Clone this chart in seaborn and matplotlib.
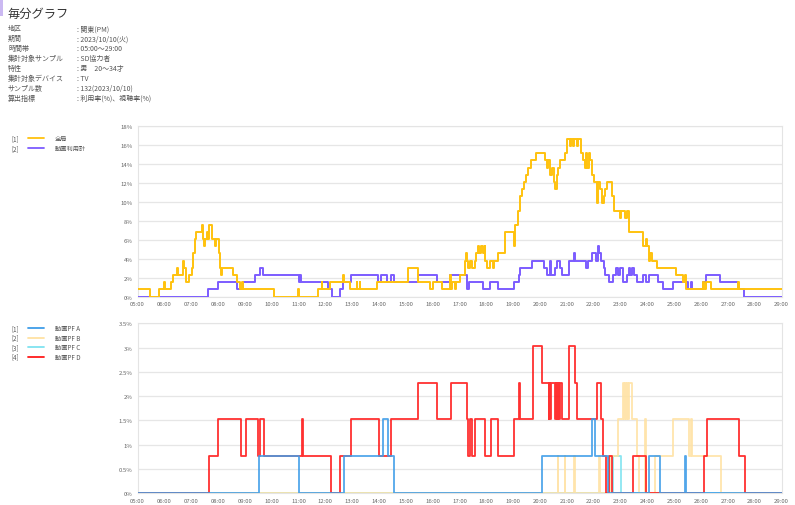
import matplotlib
matplotlib.use("Agg")
import numpy as np
import pandas as pd
import matplotlib.pyplot as plt
import seaborn as sns
from matplotlib.lines import Line2D
from matplotlib.patches import Rectangle

# header text
title = "毎分グラフ"
info_labels = ["地区", "期間", "時間帯", "集計対象サンプル", "特性",
               "集計対象デバイス", "サンプル数", "算出指標"]
info_values = ["関東(PM)", "2023/10/10(火)", "05:00～29:00", "SD協力者", "男　20～34才",
               "TV", "132(2023/10/10)", "利用率(%)、視聴率(%)"]

# x axis: broadcast day 05:00 - 29:00
hours = list(range(5, 30))
hour_labels = [f"{h:02d}:00" for h in hours]
top_yticks = [0, 2, 4, 6, 8, 10, 12, 14, 16, 18]
bottom_yticks = [0, 0.5, 1, 1.5, 2, 2.5, 3, 3.5]

top_names = ["全局", "動画利用計"]
top_colors = ["#ffc20e", "#7c5cff"]
bottom_names = ["動画PF A", "動画PF B", "動画PF C", "動画PF D"]
bottom_colors = ["#3f9de8", "#ffe2a3", "#7fe3f0", "#ff1a1a"]

# step data: (time the value starts, percent)
zenkyoku = [("05:00", 0.76), ("05:29", 0), ("05:49", 0.76), ("05:59", 1.52), ("06:01", 0.76),
            ("06:16", 1.52), ("06:19", 2.27), ("06:29", 3.03), ("06:31", 2.27), ("06:42", 3.79),
            ("06:44", 3.03), ("06:48", 1.52), ("06:55", 2.27), ("07:01", 3.03), ("07:05", 4.55),
            ("07:08", 6.06), ("07:11", 6.82), ("07:25", 7.58), ("07:27", 6.06), ("07:29", 5.30),
            ("07:31", 6.06), ("07:35", 6.82), ("07:37", 6.06), ("07:40", 7.58), ("07:46", 6.06),
            ("07:53", 5.30), ("07:55", 6.06), ("08:03", 4.55), ("08:05", 3.03), ("08:06", 2.27),
            ("08:08", 3.03), ("08:33", 2.27), ("08:42", 1.52), ("08:49", 0.76), ("08:53", 1.52),
            ("08:55", 0.76), ("10:05", 0), ("10:59", 0.76), ("11:00", 0), ("11:44", 0.76),
            ("11:52", 1.52), ("11:53", 0.76), ("12:10", 1.52), ("12:40", 2.27), ("12:41", 1.52),
            ("12:55", 0.76), ("13:10", 1.52), ("13:11", 0.76), ("13:17", 1.52), ("13:18", 0.76),
            ("13:55", 1.52), ("15:05", 3.03), ("15:28", 1.52), ("15:54", 0.76), ("16:00", 1.52),
            ("16:20", 0.76), ("16:38", 2.27), ("16:40", 0.76), ("16:43", 1.52), ("16:50", 0.76),
            ("16:53", 1.52), ("17:01", 2.27), ("17:12", 3.79), ("17:14", 4.55), ("17:16", 3.79),
            ("17:20", 3.03), ("17:24", 3.79), ("17:27", 3.03), ("17:34", 3.79), ("17:36", 4.55),
            ("17:42", 5.30), ("17:44", 4.55), ("17:48", 5.30), ("17:52", 4.55), ("17:56", 5.30),
            ("17:58", 3.79), ("18:02", 3.03), ("18:08", 3.79), ("18:14", 3.03), ("18:18", 3.79),
            ("18:26", 4.55), ("18:42", 6.82), ("19:02", 5.30), ("19:05", 7.58), ("19:10", 9.09),
            ("19:15", 10.61), ("19:20", 11.36), ("19:24", 12.12), ("19:29", 12.88), ("19:33", 13.64),
            ("19:39", 14.39), ("19:50", 15.15), ("20:12", 14.39), ("20:16", 13.64), ("20:19", 14.39),
            ("20:22", 12.88), ("20:27", 13.64), ("20:31", 12.12), ("20:34", 11.36), ("20:37", 12.88),
            ("20:40", 13.64), ("20:45", 14.39), ("20:57", 15.15), ("21:01", 16.67), ("21:07", 15.91),
            ("21:09", 16.67), ("21:13", 15.91), ("21:15", 16.67), ("21:22", 15.91), ("21:24", 16.67),
            ("21:32", 15.15), ("21:37", 14.39), ("21:40", 13.64), ("21:42", 15.15), ("21:46", 13.64),
            ("21:49", 15.15), ("21:52", 14.39), ("21:57", 12.88), ("22:01", 12.12), ("22:07", 9.85),
            ("22:10", 12.12), ("22:14", 11.36), ("22:18", 9.85), ("22:22", 10.61), ("22:25", 11.36),
            ("22:29", 12.12), ("22:41", 10.61), ("22:45", 9.09), ("22:59", 8.33), ("23:02", 9.09),
            ("23:10", 8.33), ("23:14", 9.09), ("23:18", 6.82), ("23:50", 5.30), ("23:57", 6.06),
            ("24:00", 5.30), ("24:04", 3.79), ("24:07", 4.55), ("24:10", 3.79), ("24:22", 3.03),
            ("25:05", 2.27), ("25:19", 1.52), ("25:24", 2.27), ("25:26", 0.76), ("26:05", 1.52),
            ("26:07", 0.76), ("26:12", 1.52), ("26:23", 0.76), ("27:23", 1.52), ("27:25", 0.76)]

douga_total = [("05:00", 0), ("07:37", 0.76), ("07:59", 1.52), ("08:42", 0.76), ("08:56", 1.52),
               ("09:23", 2.27), ("09:34", 3.03), ("09:41", 2.27), ("11:00", 1.52), ("11:04", 2.27),
               ("11:06", 1.52), ("12:05", 0.76), ("12:14", 0), ("12:33", 0.76), ("12:40", 1.52),
               ("12:57", 2.27), ("13:58", 1.52), ("14:04", 2.27), ("14:19", 1.52), ("14:27", 2.27),
               ("14:34", 1.52), ("15:28", 2.27), ("16:09", 1.52), ("16:39", 2.27), ("17:16", 0.76),
               ("17:21", 1.52), ("17:53", 0.76), ("18:08", 1.52), ("18:27", 0.76), ("19:01", 1.52),
               ("19:12", 2.27), ("19:15", 3.03), ("19:42", 3.79), ("20:08", 3.03), ("20:15", 2.27),
               ("20:22", 3.79), ("20:25", 2.27), ("20:33", 3.03), ("20:37", 3.79), ("20:45", 3.03),
               ("20:49", 2.27), ("21:04", 3.79), ("21:17", 4.55), ("21:19", 3.79), ("21:43", 3.03),
               ("21:48", 3.79), ("21:56", 4.55), ("22:05", 3.79), ("22:10", 5.30), ("22:12", 4.55),
               ("22:16", 3.79), ("22:22", 3.03), ("22:26", 2.27), ("22:35", 1.52), ("22:44", 2.27),
               ("22:51", 3.03), ("22:54", 2.27), ("22:59", 3.03), ("23:05", 1.52), ("23:14", 2.27),
               ("23:18", 3.03), ("23:21", 2.27), ("23:26", 3.03), ("23:30", 2.27), ("23:36", 1.52),
               ("23:51", 2.27), ("23:58", 1.52), ("24:04", 2.27), ("24:23", 1.52), ("24:35", 0.76),
               ("24:57", 1.52), ("25:31", 0.76), ("25:37", 1.52), ("25:39", 0.76), ("26:05", 1.52),
               ("26:12", 2.27), ("26:42", 1.52), ("27:23", 0.76), ("27:36", 0)]

pf_a = [("05:00", 0), ("09:32", 0.76), ("11:01", 0), ("12:42", 0.76), ("14:09", 1.52),
        ("14:21", 0.76), ("14:34", 0), ("20:05", 0.76), ("21:56", 1.52), ("22:03", 0.76),
        ("22:33", 0), ("24:04", 0.76), ("24:28", 0), ("25:24", 0.76), ("25:26", 0)]

pf_b = [("05:00", 0), ("20:40", 0.76), ("20:41", 0), ("20:55", 0.76), ("20:57", 0),
        ("21:17", 0.76), ("21:19", 0), ("22:12", 0.76), ("22:15", 0), ("22:36", 0.76),
        ("22:54", 1.52), ("23:05", 2.27), ("23:07", 1.52), ("23:09", 2.27), ("23:12", 1.52),
        ("23:14", 2.27), ("23:17", 1.52), ("23:19", 2.27), ("23:25", 1.52), ("23:36", 0.76),
        ("23:42", 0), ("23:54", 1.52), ("23:57", 0), ("24:17", 0.76), ("24:58", 1.52),
        ("25:33", 0.76), ("25:37", 1.52), ("25:40", 0.76), ("26:45", 0)]

pf_c = [("05:00", 0), ("22:44", 0.76), ("23:02", 0)]

pf_d = [("05:00", 0), ("07:40", 0.76), ("08:01", 1.52), ("08:52", 0.76), ("09:03", 1.52),
        ("09:30", 0.76), ("09:35", 1.52), ("09:42", 0.76), ("11:07", 1.52), ("11:09", 0.76),
        ("12:12", 0), ("12:33", 0.76), ("12:58", 1.52), ("14:01", 0.76), ("14:26", 1.52),
        ("15:28", 2.27), ("16:09", 1.52), ("16:42", 2.27), ("17:16", 1.52), ("17:20", 0.76),
        ("17:23", 1.52), ("17:28", 0.76), ("17:34", 1.52), ("17:57", 0.76), ("18:10", 1.52),
        ("18:27", 0.76), ("19:02", 1.52), ("19:14", 2.27), ("19:15", 1.52), ("19:44", 3.03),
        ("20:04", 2.27), ("20:20", 1.52), ("20:21", 2.27), ("20:22", 1.52), ("20:24", 2.27),
        ("20:34", 1.52), ("20:35", 2.27), ("20:37", 1.52), ("20:38", 2.27), ("20:40", 1.52),
        ("20:41", 2.27), ("20:43", 1.52), ("20:44", 2.27), ("20:49", 1.52), ("21:05", 3.03),
        ("21:18", 2.27), ("21:22", 1.52), ("22:07", 2.27), ("22:16", 1.52), ("22:21", 0.76),
        ("22:27", 0), ("22:35", 0.76), ("22:40", 0), ("23:29", 0.76), ("23:56", 0),
        ("26:07", 0.76), ("26:14", 1.52), ("27:24", 0.76), ("27:38", 0)]


def to_hours(s):
    h, m = s.split(":")
    return int(h) + int(m) / 60


def steps(pts):
    df = pd.DataFrame(pts, columns=["time", "pct"])
    df["h"] = df["time"].map(to_hours)
    # carry the last value to the end of the day
    df.loc[len(df)] = ["29:00", df["pct"].iloc[-1], 29.0]
    return df


sns.set_style("white")
plt.rcParams["font.family"] = ["Noto Sans CJK JP", "DejaVu Sans"]

W, H = 795, 506
fig = plt.figure(figsize=(W / 100, H / 100), dpi=100)


def fx(px):
    return px / W


def fy(py):
    return 1 - py / H


# top-left accent
fig.add_artist(Rectangle((0, fy(17)), fx(3), 17 / H, transform=fig.transFigure,
                         color="#cbb9f2", lw=0))

fig.text(fx(8), fy(14), title, fontsize=8.8, color="#333333", va="center")
for i, (lab, val) in enumerate(zip(info_labels, info_values)):
    y = fy(29.5 + 9.9 * i)
    fig.text(fx(8), y, lab, fontsize=5, color="#555555", va="center")
    fig.text(fx(77), y, ": " + val, fontsize=5, color="#555555", va="center")


def legend(names, colors, ys):
    for i, (n, c, y) in enumerate(zip(names, colors, ys)):
        fig.text(fx(11), fy(y), f"[{i + 1}]", fontsize=4.5, color="#555555", va="center")
        fig.add_artist(Line2D([fx(28), fx(44)], [fy(y), fy(y)], transform=fig.transFigure,
                              color=c, lw=1.3))
        fig.text(fx(55), fy(y), n, fontsize=4.5, color="#555555", va="center")


legend(top_names, top_colors, [139, 149])
legend(bottom_names, bottom_colors, [329, 338.5, 348, 357.5])


def style(ax, ymax, yticks, ylabels):
    ax.set_xlim(5, 29)
    ax.set_ylim(0, ymax)
    ax.set_xticks(hours)
    ax.set_xticklabels(hour_labels, fontsize=4.3, color="#666666")
    ax.set_xticks(np.arange(5, 29, 1 / 6), minor=True)
    ax.set_yticks(yticks)
    ax.set_yticklabels(ylabels, fontsize=4.3, color="#666666")
    ax.tick_params(axis="both", which="major", length=0, pad=3.5)
    ax.tick_params(axis="x", which="minor", length=1.5, width=0.4, color="#cccccc")
    ax.grid(axis="y", color="#e6e6e6", lw=0.9)
    ax.set_axisbelow(True)
    for sp in ax.spines.values():
        sp.set_color("#e4e4e4")
        sp.set_linewidth(0.8)
    ax.set_xlabel("")
    ax.set_ylabel("")


ax1 = fig.add_axes([fx(137.5), fy(297.5), fx(644), (297.5 - 127.3) / H])
sns.lineplot(data=steps(douga_total), x="h", y="pct", ax=ax1, color=top_colors[1],
             lw=1.4, drawstyle="steps-post", estimator=None, sort=False, zorder=3)
sns.lineplot(data=steps(zenkyoku), x="h", y="pct", ax=ax1, color=top_colors[0],
             lw=1.4, drawstyle="steps-post", estimator=None, sort=False, zorder=4)
style(ax1, 18, top_yticks, [f"{v}%" for v in top_yticks])

ax2 = fig.add_axes([fx(137.5), fy(494), fx(644), (494 - 324.3) / H])
for pts, col, z in [(pf_c, bottom_colors[2], 3), (pf_b, bottom_colors[1], 4),
                    (pf_d, bottom_colors[3], 5), (pf_a, bottom_colors[0], 6)]:
    sns.lineplot(data=steps(pts), x="h", y="pct", ax=ax2, color=col, lw=1.3,
                 drawstyle="steps-post", estimator=None, sort=False, zorder=z, alpha=0.9)
style(ax2, 3.5, bottom_yticks, [f"{v:g}%" for v in bottom_yticks])

fig.savefig("out.png", dpi=100)
